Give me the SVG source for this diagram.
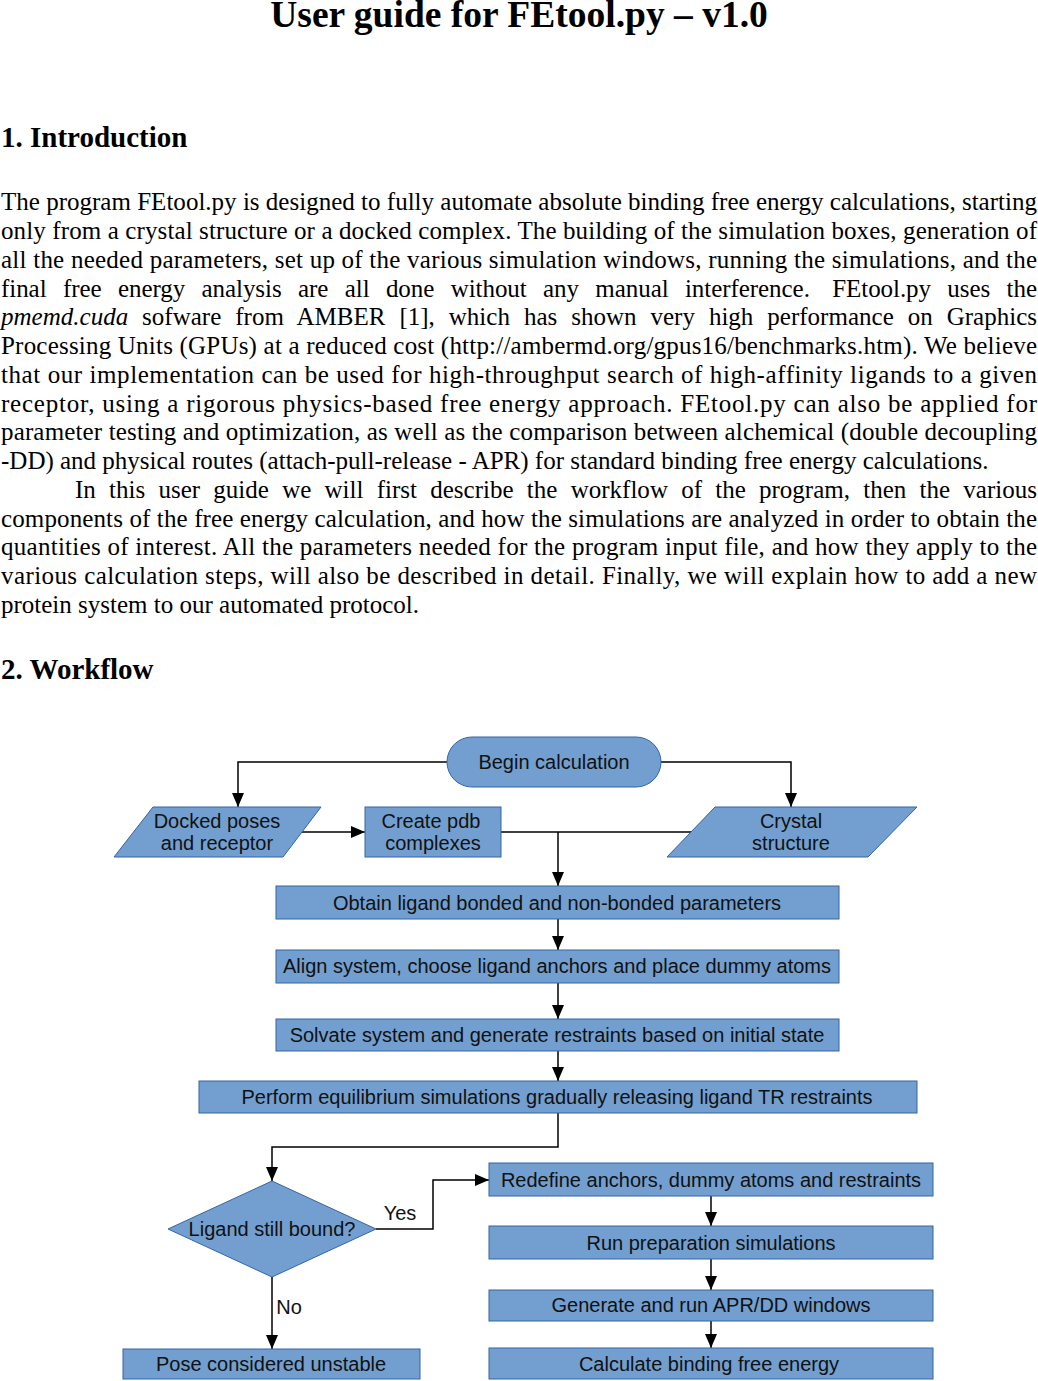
<svg xmlns="http://www.w3.org/2000/svg" width="1038" height="1381" viewBox="0 0 1038 1381">
<style>
.body{font-family:"Liberation Serif",serif;font-size:25px;fill:#000}
.h{font-family:"Liberation Serif",serif;font-weight:bold;fill:#000}
.n{fill:#729fcf;stroke:#3465a4;stroke-width:1}
.t{font-family:"Liberation Sans",sans-serif;font-size:20px;fill:#111;text-anchor:middle}
.c{fill:none;stroke:#000;stroke-width:1.5}
</style>
<defs>
<marker id="av" viewBox="0 0 14 12" refX="14" refY="6" markerWidth="14" markerHeight="12" markerUnits="userSpaceOnUse" orient="auto">
<path d="M0,0 L14,6 L0,12 z" fill="#000"/>
</marker>
</defs>
<rect width="1038" height="1381" fill="#fff"/>
<text class="h" x="519" y="27" font-size="37.5" text-anchor="middle">User guide for FEtool.py – v1.0</text>
<text class="h" x="1" y="147" font-size="29">1. Introduction</text>
<g class="body">
<text x="1" y="210" textLength="1036" lengthAdjust="spacing">The program FEtool.py is designed to fully automate absolute binding free energy calculations, starting</text>
<text x="1" y="239" textLength="1036" lengthAdjust="spacing">only from a crystal structure or a docked complex. The building of the simulation boxes, generation of</text>
<text x="1" y="268" textLength="1036" lengthAdjust="spacing">all the needed parameters, set up of the various simulation windows, running the simulations, and the</text>
<text x="1" y="297" word-spacing="10.2" textLength="1036" lengthAdjust="spacing">final free energy analysis are all done without any manual interference. <tspan dx="6">FEtool.py uses the</tspan></text>
<text x="1" y="325" word-spacing="7.7" textLength="1036" lengthAdjust="spacing"><tspan font-style="italic">pmemd.cuda</tspan> sofware from AMBER [1], which has shown very high performance on Graphics</text>
<text x="1" y="354" textLength="1036" lengthAdjust="spacing">Processing Units (GPUs) at a reduced cost (http://ambermd.org/gpus16/benchmarks.htm). We believe</text>
<text x="1" y="383" textLength="1036" lengthAdjust="spacing">that our implementation can be used for high-throughput search of high-affinity ligands to a given</text>
<text x="1" y="412" textLength="1036" lengthAdjust="spacing">receptor, using a rigorous physics-based free energy approach. FEtool.py can also be applied for</text>
<text x="1" y="440" textLength="1036" lengthAdjust="spacing">parameter testing and optimization, as well as the comparison between alchemical (double decoupling</text>
<text x="1" y="469">-DD) and physical routes (attach-pull-release - APR) for standard binding free energy calculations.</text>
<text x="75" y="498" word-spacing="6.95" textLength="962" lengthAdjust="spacing">In this user guide we will first describe the workflow of the program, then the various</text>
<text x="1" y="527" textLength="1036" lengthAdjust="spacing">components of the free energy calculation, and how the simulations are analyzed in order to obtain the</text>
<text x="1" y="555" textLength="1036" lengthAdjust="spacing">quantities of interest. All the parameters needed for the program input file, and how they apply to the</text>
<text x="1" y="584" textLength="1036" lengthAdjust="spacing">various calculation steps, will also be described in detail. Finally, we will explain how to add a new</text>
<text x="1" y="613">protein system to our automated protocol.</text>
</g>
<text class="h" x="1" y="679" font-size="29">2. Workflow</text>

<g id="connectors">
<polyline class="c" points="447,762 238,762 238,807" marker-end="url(#av)"/>
<polyline class="c" points="661,762 791,762 791,807" marker-end="url(#av)"/>
<line class="c" x1="300" y1="832" x2="365" y2="832" marker-end="url(#av)"/>
<line class="c" x1="501" y1="832" x2="692" y2="832"/>
<line class="c" x1="558" y1="832" x2="558" y2="886" marker-end="url(#av)"/>
<line class="c" x1="558" y1="919" x2="558" y2="950" marker-end="url(#av)"/>
<line class="c" x1="558" y1="983" x2="558" y2="1019" marker-end="url(#av)"/>
<line class="c" x1="558" y1="1051" x2="558" y2="1081" marker-end="url(#av)"/>
<polyline class="c" points="558,1113 558,1147 272,1147 272,1181" marker-end="url(#av)"/>
<polyline class="c" points="376,1229 433,1229 433,1180 489,1180" marker-end="url(#av)"/>
<line class="c" x1="272" y1="1277" x2="272" y2="1349" marker-end="url(#av)"/>
<line class="c" x1="711" y1="1196" x2="711" y2="1226" marker-end="url(#av)"/>
<line class="c" x1="711" y1="1259" x2="711" y2="1290" marker-end="url(#av)"/>
<line class="c" x1="711" y1="1321" x2="711" y2="1348" marker-end="url(#av)"/>
<text class="t" x="400" y="1220">Yes</text>
<text class="t" x="289" y="1314">No</text>
</g>

<g id="begin"><rect class="n" x="447" y="737" width="214" height="50" rx="25"/><text class="t" x="554" y="769" font-size="22">Begin calculation</text></g>
<g id="docked"><polygon class="n" points="153,807 321,807 283,857 114,857"/><text class="t" x="217" y="828">Docked poses</text><text class="t" x="217" y="850">and receptor</text></g>
<g id="create"><rect class="n" x="365" y="807" width="136" height="50"/><text class="t" x="431" y="828">Create pdb</text><text class="t" x="433" y="850">complexes</text></g>
<g id="crystal"><polygon class="n" points="715,807 917,807 868,857 667,857"/><text class="t" x="791" y="828">Crystal</text><text class="t" x="791" y="850">structure</text></g>
<g id="obtain"><rect class="n" x="276" y="886" width="563" height="33"/><text class="t" x="557" y="910">Obtain ligand bonded and non-bonded parameters</text></g>
<g id="align"><rect class="n" x="276" y="950" width="563" height="33"/><text class="t" x="557" y="973">Align system, choose ligand anchors and place dummy atoms</text></g>
<g id="solvate"><rect class="n" x="276" y="1019" width="563" height="32"/><text class="t" x="557" y="1042">Solvate system and generate restraints based on initial state</text></g>
<g id="perform"><rect class="n" x="199" y="1081" width="718" height="32"/><text class="t" x="557" y="1104">Perform equilibrium simulations gradually releasing ligand TR restraints</text></g>
<g id="decision"><polygon class="n" points="272,1181 376,1229 272,1277 168,1229"/><text class="t" x="272" y="1236">Ligand still bound?</text></g>
<g id="unstable"><rect class="n" x="123" y="1349" width="297" height="30"/><text class="t" x="271" y="1371">Pose considered unstable</text></g>
<g id="redefine"><rect class="n" x="489" y="1163" width="444" height="33"/><text class="t" x="711" y="1187">Redefine anchors, dummy atoms and restraints</text></g>
<g id="prep"><rect class="n" x="489" y="1226" width="444" height="33"/><text class="t" x="711" y="1250">Run preparation simulations</text></g>
<g id="generate"><rect class="n" x="489" y="1290" width="444" height="31"/><text class="t" x="711" y="1312">Generate and run APR/DD windows</text></g>
<g id="calculate"><rect class="n" x="489" y="1348" width="444" height="31"/><text class="t" x="709" y="1371">Calculate binding free energy</text></g>
</svg>
